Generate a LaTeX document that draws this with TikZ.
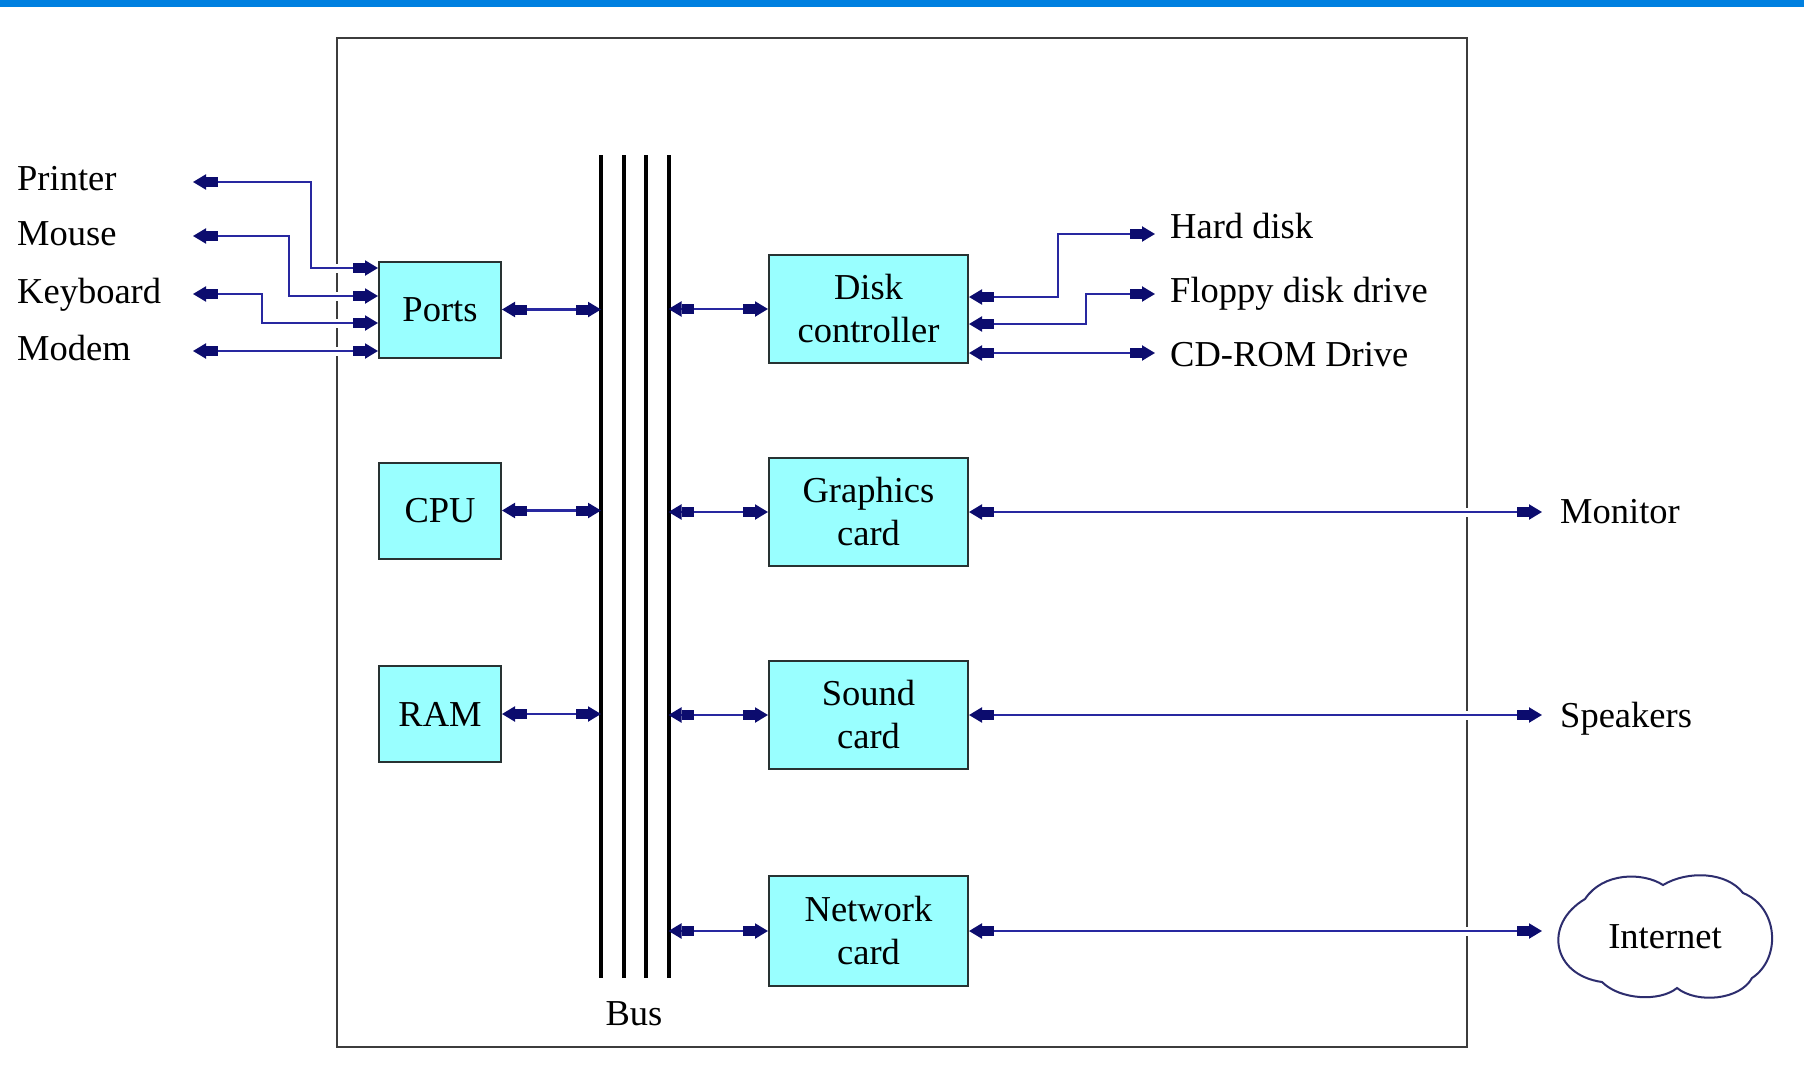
\documentclass[tikz,border=0pt]{standalone}
\usepackage{fontspec}
\setmainfont{Liberation Serif}
\usetikzlibrary{arrows.meta,calc}

\definecolor{boxcyan}{RGB}{153,255,255}
\definecolor{boxedge}{RGB}{40,50,50}
\definecolor{wire}{RGB}{40,40,160}
\definecolor{tipnavy}{RGB}{12,12,110}
\definecolor{topbar}{RGB}{0,128,224}
\definecolor{framegray}{RGB}{60,60,60}
\definecolor{cloudline}{RGB}{45,45,110}

\newcommand\diagfont{\fontsize{36.5}{43}\selectfont}

\tikzset{
  house/.tip={Rectangle[length=12pt,width=10pt,color=tipnavy] Triangle[length=13pt,width=15pt,color=tipnavy]},
  unit/.style={draw=boxedge, line width=2pt, fill=boxcyan, align=center,
               font=\diagfont, inner sep=0pt, minimum width=199pt, minimum height=108pt},
  smallunit/.style={unit, minimum width=122pt, minimum height=96pt},
  lbl/.style={font=\diagfont, inner sep=0pt, text=black},
  link/.style={draw=wire, line width=2.2pt, house-house},
  halo/.style={preaction={draw=white, line width=9pt, -}},
  busline/.style={draw=black, line width=4pt},
  frameline/.style={draw=framegray, line width=2.5pt}
}

\begin{document}
\begin{tikzpicture}[x=1pt,y=-1pt]
  % page and top bar
  \useasboundingbox (0,0) rectangle (1804,1076);
  \fill[white] (0,0) rectangle (1804,1076);
  \fill[topbar] (0,0) rectangle (1804,7);

  % computer case
  \draw[frameline] (337,38) rectangle (1467,1047);

  % bus
  \coordinate (busA) at (601,155);
  \coordinate (busB) at (623.5,155);
  \coordinate (busC) at (646,155);
  \coordinate (busD) at (668.5,155);
  \foreach \b in {busA,busB,busC,busD}
    \draw[busline] (\b) -- (\b |- 0,978);
  \node[lbl, anchor=base] (buslabel) at (634,1025) {Bus};

  % left-hand units
  \node[smallunit] (ports) at (440,309.5) {Ports};
  \node[smallunit] (cpu)   at (440,510.5) {CPU};
  \node[smallunit] (ram)   at (440,714)   {RAM};

  % right-hand units
  \node[unit] (disk)     at (868.5,309) {Disk\\controller};
  \node[unit] (graphics) at (868.5,512) {Graphics\\card};
  \node[unit] (sound)    at (868.5,715) {Sound\\card};
  \node[unit, minimum height=110pt] (network) at (868.5,931) {Network\\card};

  % units to bus
  \draw[link] (ports.east) -- (ports.east -| busA);
  \draw[link] (cpu.east)   -- (cpu.east -| busA);
  \draw[link] (ram.east)   -- (ram.east -| busA);
  \draw[link] (disk.west -| busD)     -- (disk.west);
  \draw[link] (graphics.west -| busD) -- (graphics.west);
  \draw[link] (sound.west -| busD)    -- (sound.west);
  \draw[link] (network.west -| busD)  -- (network.west);

  % external devices on the ports
  \node[lbl, anchor=base west] (printer)  at (17,190) {Printer};
  \node[lbl, anchor=base west] (mouse)    at (17,245) {Mouse};
  \node[lbl, anchor=base west] (keyboard) at (17,303) {Keyboard};
  \node[lbl, anchor=base west] (modem)    at (17,360) {Modem};
  \coordinate (printer-tip)  at (193,182);
  \coordinate (mouse-tip)    at (193,236);
  \coordinate (keyboard-tip) at (193,294);
  \coordinate (modem-tip)    at (193,351);
  \coordinate (printer-bend)  at (311,268);
  \coordinate (mouse-bend)    at (289,296);
  \coordinate (keyboard-bend) at (262,323);
  \draw[link, halo] (printer-tip)  -| (printer-bend)  -- (printer-bend -| ports.west);
  \draw[link, halo] (mouse-tip)    -| (mouse-bend)    -- (mouse-bend -| ports.west);
  \draw[link, halo] (keyboard-tip) -| (keyboard-bend) -- (keyboard-bend -| ports.west);
  \draw[link, halo] (modem-tip) -- (modem-tip -| ports.west);

  % drives on the disk controller
  \coordinate (hd-bend) at (1058,234);
  \coordinate (hd-tip)  at (1155,234);
  \coordinate (fd-bend) at (1086,294);
  \coordinate (fd-tip)  at (1155,294);
  \coordinate (cd-tip)  at (1155,353);
  \draw[link] ($(disk.east)+(0,-12)$) -| (hd-bend) -- (hd-tip);
  \draw[link] ($(disk.east)+(0,15)$)  -| (fd-bend) -- (fd-tip);
  \draw[link] ($(disk.east)+(0,44)$)  -- (cd-tip);
  \node[lbl, anchor=base west] (harddisk) at (1170,238) {Hard disk};
  \node[lbl, anchor=base west] (floppy)   at (1170,302) {Floppy disk drive};
  \node[lbl, anchor=base west] (cdrom)    at (1170,366) {CD-ROM Drive};

  % monitor, speakers, internet
  \coordinate (monitor-tip)  at (1542,512);
  \coordinate (speakers-tip) at (1542,715);
  \coordinate (internet-tip) at (1542,931);
  \draw[link, halo] (graphics.east) -- (monitor-tip);
  \draw[link, halo] (sound.east)    -- (speakers-tip);
  \draw[link, halo] (network.east)  -- (internet-tip);
  \node[lbl, anchor=base west] (monitor)  at (1560,523) {Monitor};
  \node[lbl, anchor=base west] (speakers) at (1560,727) {Speakers};

  % cloud
  \draw[cloudline, line width=2pt]
    (1663,885) .. controls (1688,870) and (1727,872) .. (1743,893)
    .. controls (1778,907) and (1782,958) .. (1752,978)
    .. controls (1740,1000) and (1697,1004) .. (1677,988)
    .. controls (1660,1002) and (1620,1000) .. (1602,982)
    .. controls (1552,975) and (1543,924) .. (1585,899)
    .. controls (1603,872) and (1643,872) .. cycle;
  \node[lbl, anchor=base] (internet) at (1665,948) {Internet};
\end{tikzpicture}
\end{document}
